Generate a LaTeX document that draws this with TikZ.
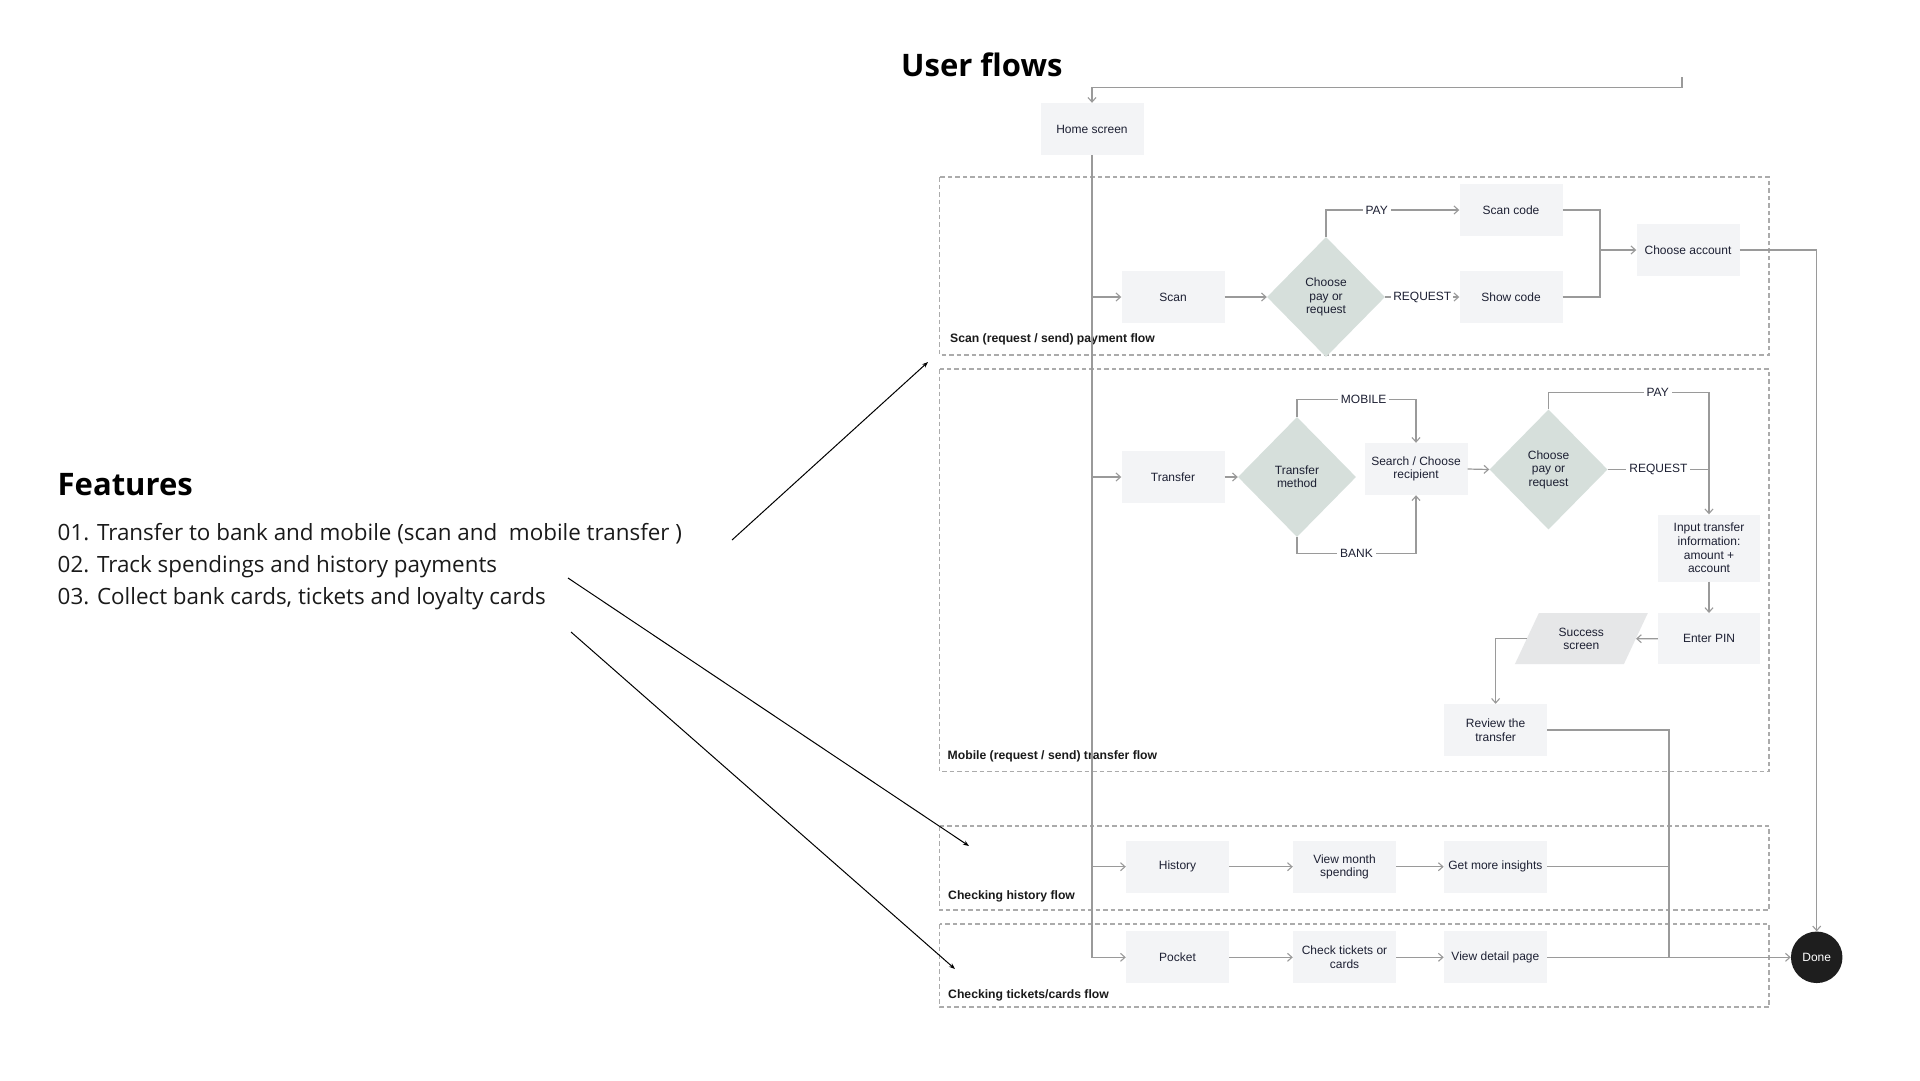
\documentclass[tikz,border=0pt]{standalone}
\usepackage{fontspec}
\usetikzlibrary{arrows.meta,shapes.geometric}
\newfontfamily\boxfont{Liberation Sans}
\newfontfamily\featfont{Open Sans}
\definecolor{boxfill}{HTML}{F3F4F6}
\definecolor{diafill}{HTML}{D6DFDB}
\definecolor{succfill}{HTML}{E6E7E8}
\definecolor{ink}{HTML}{1D2033}
\definecolor{linegray}{HTML}{9A9A9A}
\definecolor{dashgray}{HTML}{ABABAB}
\definecolor{donefill}{HTML}{1E1E1E}
\definecolor{feattext}{HTML}{1A1A1A}
\tikzset{
  box/.style={rectangle, fill=boxfill, minimum width=103pt, minimum height=52pt, inner sep=2pt,
    align=center, text=ink, font={\boxfont\fontsize{12}{13.6}\selectfont}},
  dia/.style={diamond, fill=diafill, minimum width=118pt, minimum height=120pt, inner sep=0pt,
    align=center, text=ink, font={\boxfont\fontsize{12}{13.4}\selectfont}},
  plainline/.style={draw=linegray, line width=1.2pt},
  conn/.style={plainline, -{Straight Barb[length=4.5pt,width=8pt,line width=1.1pt]}},
  lbl/.style={fill=white, inner sep=3pt, text=ink, font={\boxfont\fontsize{12}{14}\selectfont}},
  grp/.style={draw=dashgray, line width=1.2pt, dash pattern=on 4.5pt off 3pt},
  grplbl/.style={anchor=west, inner sep=0pt, text=feattext, font={\boxfont\bfseries\fontsize{12.2}{14}\selectfont}},
  feat/.style={anchor=west, inner sep=0pt, text=feattext, font={\featfont\fontsize{22.4}{26}\selectfont}},
  headtxt/.style={anchor=west, inner sep=0pt, text=black, font={\featfont\bfseries\fontsize{31}{36}\selectfont}},
  featarrow/.style={draw=black, line width=1pt, -{Stealth[length=6pt,width=4.5pt]}}
}
\begin{document}
\begin{tikzpicture}[x=1pt,y=-1pt]
\useasboundingbox (0,0) rectangle (1920,1080);
\fill[white] (0,0) rectangle (1920,1080);

% group boxes
\draw[grp] (939.5,177) rectangle (1769,355);
\draw[grp] (939.5,369) rectangle (1769,771.5);
\draw[grp] (939.5,826) rectangle (1769,910);
\draw[grp] (939.5,924) rectangle (1769,1007);
\node[grplbl] (gscan) at (950,339) {Scan (request / send) payment flow};
\node[grplbl] (gmob) at (947.5,756) {Mobile (request / send) transfer flow};
\node[grplbl] (ghist) at (948,896.7) {Checking history flow};
\node[grplbl] (gtick) at (948,995) {Checking tickets/cards flow};

% titles and features
\node[headtxt] (title) at (901,65) {User flows};
\node[headtxt] (feathead) at (57.5,484.5) {Features};
\node[feat] (f1) at (57.5,534) {01. Transfer to bank and mobile (scan and\ \ mobile transfer )};
\node[feat] (f2) at (57.5,566.5) {02. Track spendings and history payments};
\node[feat] (f3) at (57.5,599) {03. Collect bank cards, tickets and loyalty cards};

% nodes
\node[box] (home) at (1092,129) {Home screen};
\node[box] (scan) at (1173,297) {Scan};
\node[dia] (cpr1) at (1326,297) {Choose\\pay or\\request};
\node[box] (scancode) at (1511,210) {Scan code};
\node[box] (showcode) at (1511,297) {Show code};
\node[box] (chooseacc) at (1688,250) {Choose account};
\node[box] (transfer) at (1173,477) {Transfer};
\node[dia] (tm) at (1297,477) {Transfer\\method};
\node[box] (search) at (1416,469) {Search / Choose\\recipient};
\node[dia] (cpr2) at (1548.5,469.5) {Choose\\pay or\\request};
\node[box, minimum width=102pt, minimum height=67pt] (input) at (1709,548) {Input transfer\\information:\\amount +\\account};
\node[box, minimum width=102pt, minimum height=51pt] (pin) at (1709,638.7) {Enter PIN};
\node[trapezium, trapezium left angle=60, trapezium right angle=120, trapezium stretches=true,
  minimum width=133pt, minimum height=51pt, inner sep=0pt, fill=succfill, align=center, text=ink,
  font={\boxfont\fontsize{12}{13.6}\selectfont}] (success) at (1581.3,638.7) {Success\\screen};
\node[box] (review) at (1495.6,730) {Review the\\transfer};
\node[box] (history) at (1177.5,866.7) {History};
\node[box] (viewmonth) at (1344.5,866.7) {View month\\spending};
\node[box] (insights) at (1495.4,866.7) {Get more insights};
\node[box] (pocket) at (1177.5,957.3) {Pocket};
\node[box] (checktk) at (1344.5,957.3) {Check tickets or\\cards};
\node[box] (viewdetail) at (1495.4,957.3) {View detail page};
\node[circle, fill=donefill, minimum size=51.5pt, inner sep=0pt, text=white,
  font={\boxfont\fontsize{12}{14}\selectfont}] (done) at (1816.7,957.3) {Done};

% helper coordinates
\coordinate (fb) at (1682,77);
\coordinate (fbc) at (1682,87.3);
\coordinate (j1) at (1600,250);
\coordinate (j2) at (1669,957.3);

% feedback to home
\draw[conn] (fb) -- (fbc) -| (home.north);

% home trunk
\draw[conn] (home.south) -- (home.south |- pocket.west) -- (pocket.west);
\draw[conn] (home.south |- scan.west) -- (scan.west);
\draw[conn] (home.south |- transfer.west) -- (transfer.west);
\draw[conn] (home.south |- history.west) -- (history.west);

% scan flow
\draw[conn] (scan.east) -- (cpr1.west);
\draw[conn] (cpr1.north) |- node[lbl, pos=0.69] {PAY} (scancode.west);
\draw[conn] (cpr1.east) -- node[lbl, inner sep=2pt] {REQUEST} (showcode.west);
\draw[plainline] (scancode.east) -| (j1);
\draw[plainline] (showcode.east) -| (j1);
\draw[conn] (j1) -- (chooseacc.west);
\draw[conn] (chooseacc.east) -| (done.north);

% mobile flow
\draw[conn] (transfer.east) -- (tm.west);
\draw[conn] (tm.north) -- ++(0,-17) -| node[lbl, pos=0.28] {MOBILE} (search.north);
\draw[conn] (tm.south) -- ++(0,16) -| node[lbl, pos=0.25] {BANK} (search.south);
\draw[conn] (search.east) -- (cpr2.west);
\draw[conn] (cpr2.north) -- ++(0,-16.5) -| node[lbl, pos=0.34] {PAY} (input.north);
\draw[plainline] (cpr2.east) -- node[lbl] {REQUEST} (input.north |- cpr2.east);
\draw[conn] (input.south) -- (pin.north);
\draw[conn] (pin.west) -- (success.east);
\draw[conn] (success.west) -| (review.north);
\draw[plainline] (review.east) -| (j2);

% history flow
\draw[conn] (history.east) -- (viewmonth.west);
\draw[conn] (viewmonth.east) -- (insights.west);
\draw[plainline] (insights.east) -- (insights.east -| j2);

% tickets flow
\draw[conn] (pocket.east) -- (checktk.west);
\draw[conn] (checktk.east) -- (viewdetail.west);
\draw[conn] (viewdetail.east) -- (done.west);

% feature arrows
\coordinate (a1s) at (732,540);
\coordinate (a1e) at (928,362);
\coordinate (a2s) at (568,578);
\coordinate (a2e) at (969,846);
\coordinate (a3s) at (571,632);
\coordinate (a3e) at (955,969);
\draw[featarrow] (a1s) -- (a1e);
\draw[featarrow] (a2s) -- (a2e);
\draw[featarrow] (a3s) -- (a3e);
\end{tikzpicture}
\end{document}
